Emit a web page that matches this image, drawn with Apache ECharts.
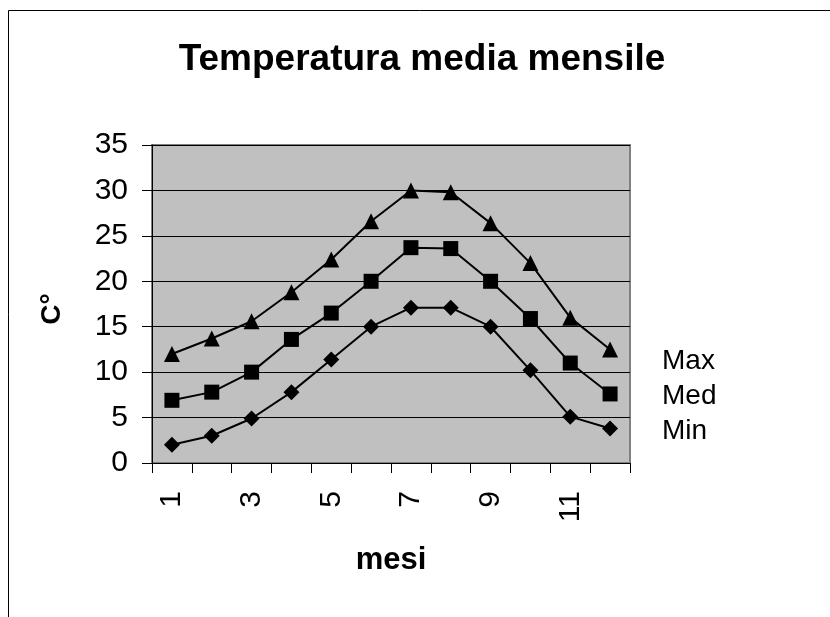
<!DOCTYPE html>
<html>
<head>
<meta charset="utf-8">
<script src="https://cdn.jsdelivr.net/npm/echarts@6/dist/echarts.min.js"></script>
<style>
html,body{margin:0;padding:0;background:#fff;}
#chart{width:830px;height:617px;}
</style>
</head>
<body>
<div id="chart"></div>
<script>
const months = ['1','2','3','4','5','6','7','8','9','10','11','12'];
const maxTemps = [12, 13.7, 15.6, 18.8, 22.4, 26.6, 30.0, 29.8, 26.4, 22.0, 16.0, 12.5];
const medTemps = [6.9, 7.8, 10.0, 13.6, 16.5, 20.0, 23.7, 23.6, 20.0, 15.9, 11.0, 7.6];
const minTemps = [2.0, 3.0, 4.9, 7.8, 11.4, 15.0, 17.1, 17.1, 15.0, 10.2, 5.1, 3.8];
const seriesNames = ['Max', 'Med', 'Min'];
const titleText = 'Temperatura media mensile';
const xName = 'mesi';
const yName = 'C°';

const FONT = '"Liberation Sans", Arial, sans-serif';
const chart = echarts.init(document.getElementById('chart'), null, {renderer: 'canvas'});

function lineSeries(name, data, symbol, size) {
  return {
    name: name,
    type: 'line',
    data: data,
    symbol: symbol,
    symbolSize: size,
    showAllSymbol: true,
    lineStyle: {color: '#000', width: 2},
    itemStyle: {color: '#000', borderWidth: 0},
    emphasis: {disabled: true},
    animation: false
  };
}

chart.setOption({
  animation: false,
  backgroundColor: '#fff',
  title: {
    text: titleText,
    left: 417,
    textAlign: 'center',
    top: 36,
    textStyle: {fontFamily: FONT, fontSize: 37, fontWeight: 'bold', color: '#000'}
  },
  legend: {
    data: seriesNames,
    orient: 'vertical',
    left: 652,
    top: 342,
    icon: 'none',
    itemWidth: 0,
    itemHeight: 0,
    itemGap: 7,
    selectedMode: false,
    textStyle: {fontFamily: FONT, fontSize: 28, color: '#000'}
  },
  graphic: [{
    type: 'rect',
    shape: {x: 8.5, y: 10.5, width: 900, height: 700},
    style: {fill: 'none', stroke: '#000', lineWidth: 1},
    silent: true,
    z: -10
  }],
  grid: {
    left: 152, right: 200, top: 145, bottom: 154,
    show: true,
    backgroundColor: '#c0c0c0',
    borderColor: '#808080',
    borderWidth: 2
  },
  xAxis: {
    type: 'category',
    data: months,
    boundaryGap: true,
    name: xName,
    nameLocation: 'middle',
    nameGap: 82,
    nameTextStyle: {fontFamily: FONT, fontSize: 31, fontWeight: 'bold', color: '#000'},
    axisLine: {show: true, lineStyle: {color: '#000', width: 1}},
    axisTick: {show: true, interval: 0, length: 10, lineStyle: {color: '#000'}},
    axisLabel: {interval: 1, rotate: 90, margin: 28, fontFamily: FONT, fontSize: 30, color: '#000'},
    splitLine: {show: false}
  },
  yAxis: {
    type: 'value',
    min: 0, max: 35, interval: 5,
    name: yName,
    nameLocation: 'middle',
    nameRotate: 90,
    nameGap: 86,
    nameTextStyle: {fontFamily: FONT, fontSize: 28, fontWeight: 'bold', color: '#000', padding: [0, 10, 0, 0]},
    axisLine: {show: true, lineStyle: {color: '#000', width: 1}},
    axisTick: {show: true, length: 10, lineStyle: {color: '#000'}},
    axisLabel: {margin: 24, fontFamily: FONT, fontSize: 30, color: '#000'},
    splitLine: {show: true, lineStyle: {color: '#000', width: 1}}
  },
  series: [
    lineSeries('Max', maxTemps, 'triangle', 16),
    lineSeries('Med', medTemps, 'rect', 15),
    lineSeries('Min', minTemps, 'diamond', 16)
  ]
});
</script>
</body>
</html>
